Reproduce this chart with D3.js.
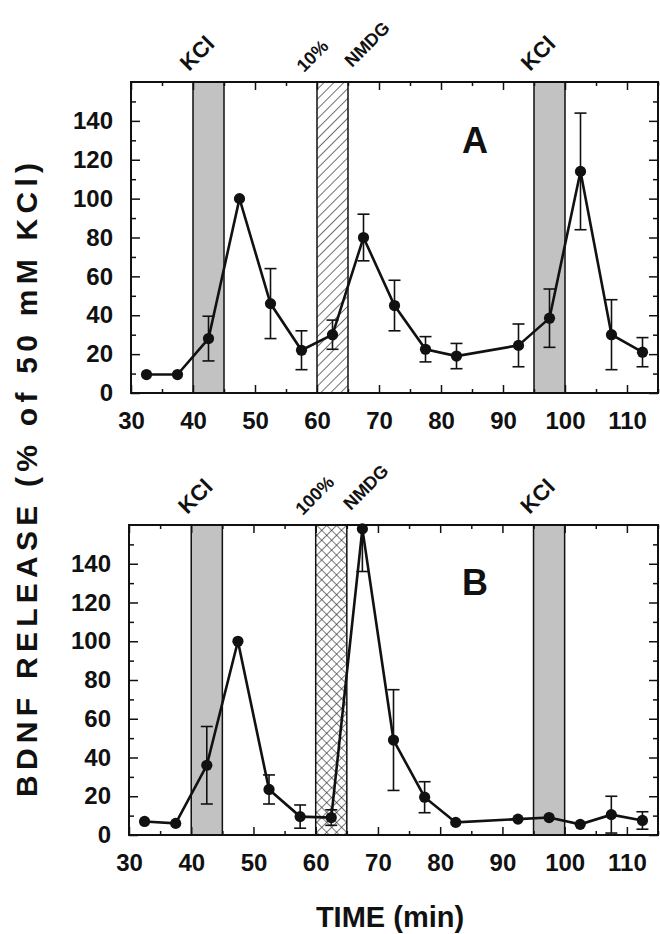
<!DOCTYPE html>
<html>
<head>
<meta charset="utf-8">
<script src="https://cdn.jsdelivr.net/npm/d3@7"></script>
<style>
  body { margin: 0; background: #fff; }
  text { font-family: "Liberation Sans", Arial, sans-serif; font-weight: bold; fill: #111; }
</style>
</head>
<body>
<div id="vis"></div>
<script>
const FRAME_WIDTH = 660;
const FRAME_HEIGHT = 934;

// sampling times (min) - same for both panels
const TIMES = [32.5, 37.5, 42.5, 47.5, 52.5, 57.5, 62.5, 67.5, 72.5, 77.5, 82.5, 92.5, 97.5, 102.5, 107.5, 112.5];

// panel A: 10% NMDG
const RELEASE_A = [9.5, 9.5, 28, 100, 46, 22, 30, 80, 45, 22.5, 19, 24.5, 38.5, 114, 30, 21];
const SEM_A     = [0, 0, 11.5, 0, 18, 10, 7.5, 12, 13, 6.5, 6.5, 11, 15, 30, 18, 7.5];

// panel B: 100% NMDG
const RELEASE_B = [7, 6, 36, 100, 23.5, 9.5, 9, 158, 49, 19.5, 6.5, 8.2, 9, 5.5, 10.5, 7.5];
const SEM_B     = [0, 0, 20, 0, 7.5, 6, 4, 22, 26, 8, 0, 0, 0, 0, 9.5, 4.5];

const KCL_PULSES = [[40, 45], [95, 100]];
const NMDG_PULSE = [60, 65];

const X_TICKS = [30, 40, 50, 60, 70, 80, 90, 100, 110];
const X_MINOR = [35, 45, 55, 65, 75, 85, 95, 105, 115];
const Y_TICKS = [0, 20, 40, 60, 80, 100, 120, 140];
const Y_MINOR = [10, 30, 50, 70, 90, 110, 130, 150];

const svg = d3.select("#vis")
  .append("svg")
    .attr("width", FRAME_WIDTH)
    .attr("height", FRAME_HEIGHT);

const defs = svg.append("defs");

// single hatch "/" for 10% NMDG
const hatch = defs.append("pattern")
    .attr("id", "hatch")
    .attr("patternUnits", "userSpaceOnUse")
    .attr("width", 7).attr("height", 7)
    .attr("patternTransform", "rotate(45)");
hatch.append("rect").attr("width", 7).attr("height", 7).attr("fill", "#fff");
hatch.append("line").attr("x1", 0).attr("y1", 0).attr("x2", 0).attr("y2", 7)
    .attr("stroke", "#222").attr("stroke-width", 1.3);

// crosshatch for 100% NMDG
const cross = defs.append("pattern")
    .attr("id", "cross")
    .attr("patternUnits", "userSpaceOnUse")
    .attr("width", 7).attr("height", 7)
    .attr("patternTransform", "rotate(45)");
cross.append("rect").attr("width", 7).attr("height", 7).attr("fill", "#fff");
cross.append("line").attr("x1", 0).attr("y1", 0).attr("x2", 0).attr("y2", 7)
    .attr("stroke", "#222").attr("stroke-width", 1.2);
cross.append("line").attr("x1", 0).attr("y1", 0).attr("x2", 7).attr("y2", 0)
    .attr("stroke", "#222").attr("stroke-width", 1.2);

function drawPanel(cfg) {
  const X_SCALE = d3.scaleLinear().domain([30, 115]).range([cfg.left, 658]);
  const Y_SCALE = d3.scaleLinear().domain([0, 160]).range([cfg.bottom, cfg.top]);
  const g = svg.append("g");

  const clipId = "clip" + cfg.name;
  defs.append("clipPath").attr("id", clipId)
    .append("rect")
      .attr("x", X_SCALE(30)).attr("y", Y_SCALE(160))
      .attr("width", X_SCALE(115) - X_SCALE(30))
      .attr("height", Y_SCALE(0) - Y_SCALE(160));

  // KCl pulses
  g.selectAll(".kcl")
    .data(KCL_PULSES)
    .enter()
    .append("rect")
      .attr("x", (d) => X_SCALE(d[0]))
      .attr("y", Y_SCALE(160))
      .attr("width", (d) => X_SCALE(d[1]) - X_SCALE(d[0]))
      .attr("height", Y_SCALE(0) - Y_SCALE(160))
      .attr("fill", "#c2c2c2")
      .attr("stroke", "#111")
      .attr("stroke-width", 1.5);

  // NMDG pulse
  g.append("rect")
      .attr("x", X_SCALE(NMDG_PULSE[0]))
      .attr("y", Y_SCALE(160))
      .attr("width", X_SCALE(NMDG_PULSE[1]) - X_SCALE(NMDG_PULSE[0]))
      .attr("height", Y_SCALE(0) - Y_SCALE(160))
      .attr("fill", "url(#" + cfg.pattern + ")")
      .attr("stroke", "#111")
      .attr("stroke-width", 1.5);

  // frame
  g.append("rect")
      .attr("x", X_SCALE(30)).attr("y", Y_SCALE(160))
      .attr("width", X_SCALE(115) - X_SCALE(30))
      .attr("height", Y_SCALE(0) - Y_SCALE(160))
      .attr("fill", "none")
      .attr("stroke", "#111")
      .attr("stroke-width", 2);

  // axes, ticks pointing inward
  const bottom = g.append("g")
      .attr("transform", "translate(0," + Y_SCALE(0) + ")")
      .call(d3.axisBottom(X_SCALE).tickValues(X_TICKS).tickSize(-8).tickPadding(19));
  g.append("g")
      .attr("transform", "translate(0," + Y_SCALE(0) + ")")
      .call(d3.axisBottom(X_SCALE).tickValues(X_MINOR).tickSize(-4).tickFormat(""));
  g.append("g")
      .attr("transform", "translate(0," + Y_SCALE(160) + ")")
      .call(d3.axisTop(X_SCALE).tickValues(X_TICKS).tickSize(-8).tickFormat(""));
  g.append("g")
      .attr("transform", "translate(0," + Y_SCALE(160) + ")")
      .call(d3.axisTop(X_SCALE).tickValues(X_MINOR).tickSize(-4).tickFormat(""));

  const left = g.append("g")
      .attr("transform", "translate(" + X_SCALE(30) + ",0)")
      .call(d3.axisLeft(Y_SCALE).tickValues(Y_TICKS).tickSize(-9).tickPadding(18));
  g.append("g")
      .attr("transform", "translate(" + X_SCALE(30) + ",0)")
      .call(d3.axisLeft(Y_SCALE).tickValues(Y_MINOR).tickSize(-5).tickFormat(""));
  g.append("g")
      .attr("transform", "translate(" + X_SCALE(115) + ",0)")
      .call(d3.axisRight(Y_SCALE).tickValues(Y_TICKS).tickSize(-9).tickFormat(""));
  g.append("g")
      .attr("transform", "translate(" + X_SCALE(115) + ",0)")
      .call(d3.axisRight(Y_SCALE).tickValues(Y_MINOR).tickSize(-5).tickFormat(""));

  g.selectAll(".domain").remove();
  g.selectAll(".tick line").attr("stroke", "#111").attr("stroke-width", 1.5);
  bottom.selectAll("text").attr("font-size", "24px").attr("font-family", null).attr("fill", "#111");
  left.selectAll("text").attr("font-size", "24px").attr("font-family", null).attr("fill", "#111");

  // connecting line
  const pts = TIMES.map((t, i) => [t, cfg.values[i], cfg.sem[i]]);
  g.append("path")
      .datum(pts)
      .attr("fill", "none")
      .attr("stroke", "#111")
      .attr("stroke-width", 2.6)
      .attr("d", d3.line().x((d) => X_SCALE(d[0])).y((d) => Y_SCALE(d[1])));

  // error bars (clipped to the frame, B peak runs off the top)
  const eb = g.append("g").attr("clip-path", "url(#" + clipId + ")")
    .selectAll("g")
    .data(pts.filter((d) => d[2] > 0))
    .enter()
    .append("g")
      .attr("stroke", "#111")
      .attr("stroke-width", 1.6);
  eb.append("line")
      .attr("x1", (d) => X_SCALE(d[0])).attr("x2", (d) => X_SCALE(d[0]))
      .attr("y1", (d) => Y_SCALE(d[1] + d[2])).attr("y2", (d) => Y_SCALE(d[1] - d[2]));
  eb.append("line")
      .attr("x1", (d) => X_SCALE(d[0]) - 6).attr("x2", (d) => X_SCALE(d[0]) + 6)
      .attr("y1", (d) => Y_SCALE(d[1] + d[2])).attr("y2", (d) => Y_SCALE(d[1] + d[2]));
  eb.append("line")
      .attr("x1", (d) => X_SCALE(d[0]) - 6).attr("x2", (d) => X_SCALE(d[0]) + 6)
      .attr("y1", (d) => Y_SCALE(d[1] - d[2])).attr("y2", (d) => Y_SCALE(d[1] - d[2]));

  // points
  g.selectAll(".pt")
    .data(pts)
    .enter()
    .append("circle")
      .attr("cx", (d) => X_SCALE(d[0]))
      .attr("cy", (d) => Y_SCALE(d[1]))
      .attr("r", 5.6)
      .attr("fill", "#111");

  // rotated pulse labels above the frame
  const topY = Y_SCALE(160);
  function rotLabel(x, y, txt, size) {
    g.append("text")
      .attr("transform", "translate(" + x + "," + y + ") rotate(-45)")
      .attr("font-size", size + "px")
      .text(txt);
  }
  KCL_PULSES.forEach((p) => rotLabel(X_SCALE(p[0]) - 4, topY - 10, "KCl", 22));
  rotLabel(X_SCALE(NMDG_PULSE[0]) - 13, topY - 9, cfg.nmdgLabel, 18);
  rotLabel(X_SCALE(NMDG_PULSE[1]) + 4, topY - 14, "NMDG", 18);

  // panel letter
  g.append("text")
    .attr("x", 475).attr("y", cfg.letterY)
    .attr("text-anchor", "middle")
    .attr("font-size", "36px")
    .text(cfg.name);
}

drawPanel({name: "A", left: 131, top: 82, bottom: 393, values: RELEASE_A, sem: SEM_A,
           pattern: "hatch", nmdgLabel: "10%", letterY: 153});
drawPanel({name: "B", left: 129, top: 525, bottom: 835, values: RELEASE_B, sem: SEM_B,
           pattern: "cross", nmdgLabel: "100%", letterY: 595});

// shared axis titles
svg.append("text")
  .attr("transform", "translate(37,480) rotate(-90)")
  .attr("text-anchor", "middle")
  .attr("font-size", "30px")
  .attr("textLength", 634)
  .attr("lengthAdjust", "spacing")
  .text("BDNF RELEASE (% of 50 mM KCl)");

svg.append("text")
  .attr("x", 390).attr("y", 927)
  .attr("text-anchor", "middle")
  .attr("font-size", "29px")
  .text("TIME (min)");
</script>
</body>
</html>
